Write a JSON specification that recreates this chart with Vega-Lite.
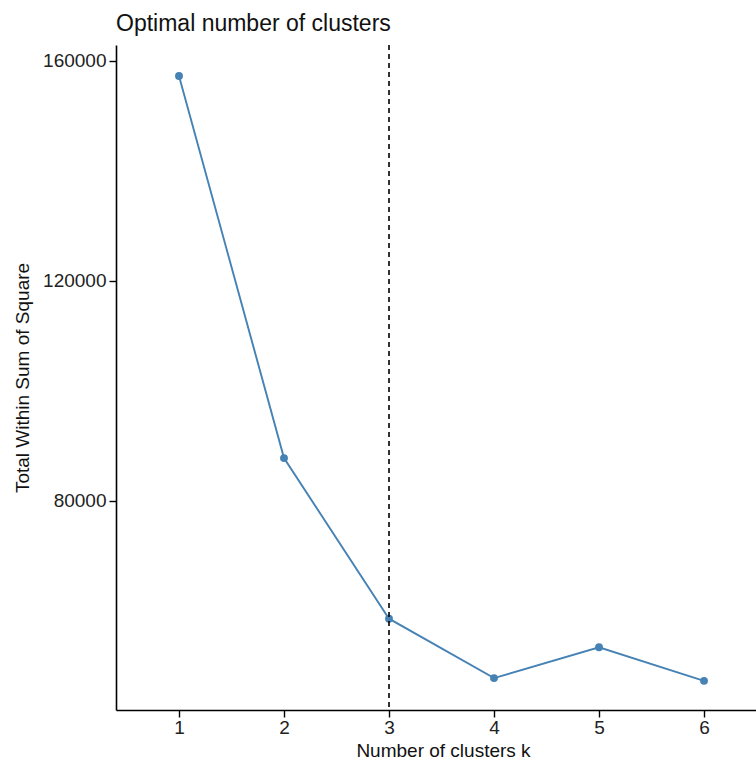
{
  "$schema": "https://vega.github.io/schema/vega-lite/v6.json",
  "width": 640,
  "height": 665,
  "autosize": "none",
  "padding": {"left": 116, "top": 45, "right": 0, "bottom": 49},
  "background": "white",
  "title": {
    "text": "Optimal number of clusters",
    "anchor": "start",
    "frame": "group",
    "font": "Liberation Sans",
    "fontSize": 23,
    "fontWeight": "normal",
    "color": "#111111",
    "offset": 8
  },
  "data": {
    "values": [
      {"k": 1, "wss": 157273},
      {"k": 2, "wss": 87800},
      {"k": 3, "wss": 58600},
      {"k": 4, "wss": 47800},
      {"k": 5, "wss": 53400},
      {"k": 6, "wss": 47300}
    ]
  },
  "encoding": {
    "x": {
      "field": "k",
      "type": "quantitative",
      "scale": {"domain": [0.4, 6.495], "nice": false, "zero": false},
      "axis": {"values": [1, 2, 3, 4, 5, 6], "title": "Number of clusters k", "format": "d"}
    },
    "y": {
      "field": "wss",
      "type": "quantitative",
      "scale": {"domain": [42000, 162900], "nice": false, "zero": false},
      "axis": {"values": [80000, 120000, 160000], "title": "Total Within Sum of Square", "format": "d"}
    }
  },
  "layer": [
    {"mark": {"type": "line", "color": "#4682B4", "strokeWidth": 1.9}},
    {"mark": {"type": "point", "filled": true, "color": "#4682B4", "opacity": 1, "size": 62}},
    {
      "data": {"values": [{"k": 3}]},
      "mark": {"type": "rule", "color": "black", "strokeWidth": 1.6, "strokeDash": [5, 4]},
      "encoding": {"x": {"field": "k", "type": "quantitative"}, "y": null}
    }
  ],
  "config": {
    "view": {"stroke": null},
    "axis": {
      "grid": false,
      "domainColor": "black",
      "domainWidth": 1.6,
      "tickColor": "black",
      "tickWidth": 1.4,
      "tickSize": 7,
      "labelFont": "Liberation Sans",
      "labelFontSize": 19,
      "labelColor": "#222222",
      "labelPadding": 3,
      "titleFont": "Liberation Sans",
      "titleFontSize": 19,
      "titleFontWeight": "normal",
      "titleColor": "#111111"
    },
    "axisX": {"labelPadding": 1, "titleBaseline": "alphabetic", "titleY": 46, "titleX": 327, "titleAlign": "center"},
    "axisY": {"titlePadding": 10}
  }
}
